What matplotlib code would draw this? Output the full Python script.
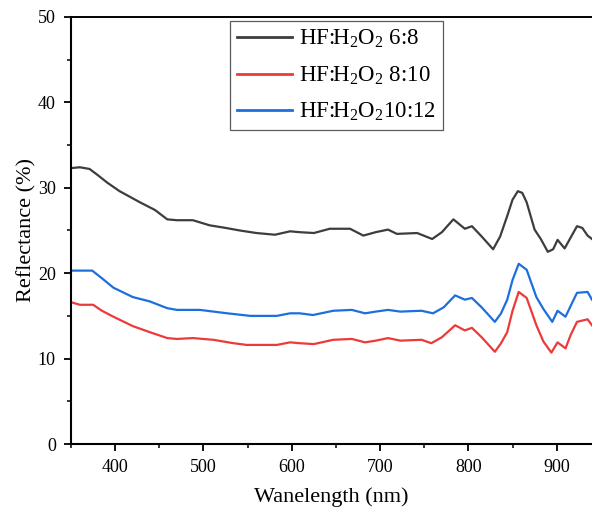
#!/usr/bin/env python3
# -*- coding: utf-8 -*-
"""Reflectance spectra for three HF:H2O2 etching ratios."""

import matplotlib
matplotlib.use('Agg')
import matplotlib.pyplot as plt
from matplotlib.ticker import MultipleLocator

plt.rcParams['font.family'] = ['Liberation Serif', 'DejaVu Serif']
plt.rcParams['mathtext.fontset'] = 'custom'
plt.rcParams['mathtext.rm'] = 'Liberation Serif'
plt.rcParams['mathtext.default'] = 'regular'

# 数据
wl_black = [350, 360, 371, 380, 391, 405, 428, 445, 459, 470, 488, 507, 525, 541,
            560, 581, 598, 609, 625, 643, 666, 681, 695, 709, 719, 742, 759, 770,
            783, 796, 804, 815, 828, 836, 844, 850, 856, 861, 866, 875, 882, 890,
            896, 901, 909, 916, 923, 929, 935, 940]
r_black = [32.3, 32.4, 32.2, 31.5, 30.6, 29.6, 28.3, 27.4, 26.3, 26.2, 26.2, 25.6,
           25.3, 25.0, 24.7, 24.5, 24.9, 24.8, 24.7, 25.2, 25.2, 24.4, 24.8, 25.1,
           24.6, 24.7, 24.0, 24.8, 26.3, 25.2, 25.5, 24.3, 22.8, 24.3, 26.7, 28.6,
           29.6, 29.4, 28.3, 25.1, 24.0, 22.5, 22.8, 23.9, 22.9, 24.2, 25.5, 25.3,
           24.4, 24.0]

wl_red = [350, 360, 375, 385, 398, 420, 439, 459, 470, 488, 511, 534, 549, 565,
          583, 598, 609, 625, 647, 668, 683, 695, 709, 723, 747, 758, 770, 785,
          796, 804, 815, 830, 837, 844, 850, 857, 866, 877, 885, 894, 901, 910,
          916, 923, 935, 940]
r_red = [16.6, 16.3, 16.3, 15.6, 14.9, 13.8, 13.1, 12.4, 12.3, 12.4, 12.2, 11.8,
         11.6, 11.6, 11.6, 11.9, 11.8, 11.7, 12.2, 12.3, 11.9, 12.1, 12.4, 12.1,
         12.2, 11.8, 12.5, 13.9, 13.3, 13.6, 12.5, 10.8, 11.8, 13.1, 15.6, 17.8,
         17.1, 13.9, 12.0, 10.7, 11.9, 11.2, 12.8, 14.3, 14.6, 13.9]

wl_blue = [350, 360, 374, 385, 398, 420, 439, 459, 470, 496, 527, 553, 583, 598,
           609, 624, 647, 668, 683, 695, 709, 723, 747, 760, 772, 785, 796, 804,
           815, 830, 837, 844, 850, 857, 866, 877, 885, 895, 901, 910, 916, 923,
           935, 940]
r_blue = [20.3, 20.3, 20.3, 19.4, 18.3, 17.2, 16.7, 15.9, 15.7, 15.7, 15.3, 15.0,
          15.0, 15.3, 15.3, 15.1, 15.6, 15.7, 15.3, 15.5, 15.7, 15.5, 15.6, 15.3,
          16.0, 17.4, 16.9, 17.1, 16.0, 14.3, 15.3, 16.9, 19.2, 21.1, 20.4, 17.2,
          15.8, 14.3, 15.6, 14.9, 16.2, 17.7, 17.8, 16.9]

labels = ['HF:H$_2$O$_2$ 6:8', 'HF:H$_2$O$_2$ 8:10', 'HF:H$_2$O$_2$10:12']
colors = ['#3d3d3d', '#ec3a3a', '#1c6fdc']

fig = plt.figure(figsize=(5.92, 5.13), dpi=100)
ax = fig.add_axes([0.12, 0.1345, 0.88, 0.8325])

ax.plot(wl_black, r_black, color=colors[0], lw=1.6, label=labels[0])
ax.plot(wl_red, r_red, color=colors[1], lw=1.6, label=labels[1])
ax.plot(wl_blue, r_blue, color=colors[2], lw=1.6, label=labels[2])

ax.set_xlim(350, 940)
ax.set_ylim(0, 50)
ax.xaxis.set_major_locator(MultipleLocator(100))
ax.xaxis.set_minor_locator(MultipleLocator(50))
ax.yaxis.set_major_locator(MultipleLocator(10))
ax.yaxis.set_minor_locator(MultipleLocator(5))
ax.tick_params(which='major', direction='out', length=5, width=1.3,
               labelsize=13, pad=6)
ax.tick_params(which='minor', direction='out', length=3, width=1.1)
for side in ['left', 'bottom']:
    ax.spines[side].set_linewidth(1.5)
ax.spines['top'].set_linewidth(1.4)
ax.spines['right'].set_visible(False)

ax.set_xlabel('Wanelength (nm)', fontsize=16, labelpad=8)
ax.set_ylabel('Reflectance (%)', fontsize=16, labelpad=1)

leg = ax.legend(loc='upper left', bbox_to_anchor=(0.306, 0.99), fontsize=16.5,
                frameon=True, fancybox=False, edgecolor='#333333',
                handlelength=2.4, handletextpad=0.3, labelspacing=0.62,
                borderpad=0.3, borderaxespad=0)
leg.get_frame().set_linewidth(0.9)
for line in leg.get_lines():
    line.set_linewidth(2.0)

fig.savefig('out.png', dpi=100)
